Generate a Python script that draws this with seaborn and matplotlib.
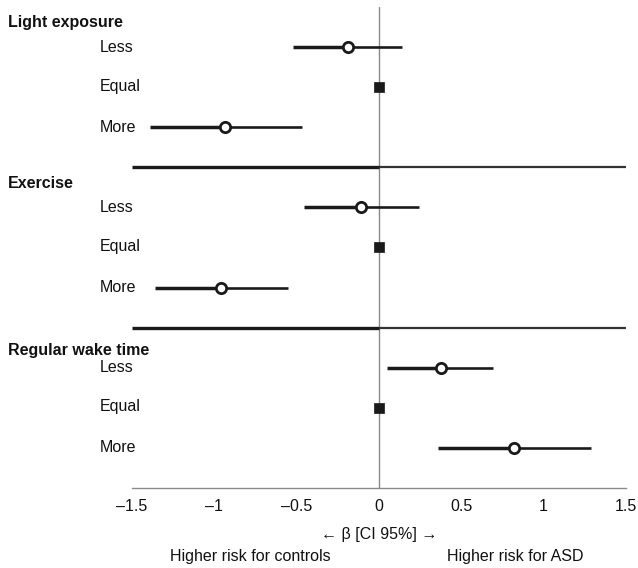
import numpy as np
import pandas as pd
import matplotlib.pyplot as plt
import seaborn as sns

# forest plot: beta with 95% CI per category
groups = ["Light exposure", "Exercise", "Regular wake time"]
levels = ["Less", "Equal", "More"]
beta = [-0.19, 0.0, -0.935,
        -0.11, 0.0, -0.96,
        0.375, 0.0, 0.82]
ci_low = [-0.52, 0.0, -1.39,
          -0.455, 0.0, -1.36,
          0.047, 0.0, 0.356]
ci_high = [0.14, 0.0, -0.47,
           0.24, 0.0, -0.55,
           0.694, 0.0, 1.285]
xticks = [-1.5, -1, -0.5, 0, 0.5, 1, 1.5]
xticklabels = ["\u20131.5", "\u20131", "\u20130.5", "0", "0.5", "1", "1.5"]

sns.set_style("white")
plt.rcParams["font.family"] = ["Liberation Sans", "DejaVu Sans"]
plt.rcParams["text.color"] = "#111111"
plt.rcParams["axes.labelcolor"] = "#111111"
plt.rcParams["xtick.color"] = "#111111"
_fs = 11.5

rows = []
for gi, g in enumerate(groups):
    for li, lv in enumerate(levels):
        k = gi * 3 + li
        rows.append({"group": g, "level": lv, "pos": gi * 4 + li + 1,
                     "beta": beta[k], "lo": ci_low[k], "hi": ci_high[k],
                     "ref": lv == "Equal"})
df = pd.DataFrame(rows)

fig = plt.figure(figsize=(6.38, 5.68), dpi=100)
ax = fig.add_axes([132 / 638, 1 - 488 / 568, 494 / 638, 481 / 568])

# zero line
ax.axvline(0, color="#8a8a8a", lw=1, zorder=1)

est = df[~df["ref"]]
ax.hlines(est["pos"], est["lo"], est["beta"], color="#1a1a1a", lw=2.5, zorder=2)
ax.hlines(est["pos"], est["beta"], est["hi"], color="#1a1a1a", lw=1.9, zorder=2)
sns.scatterplot(data=est, x="beta", y="pos", ax=ax, marker="o", s=55,
                facecolor="white", edgecolor="#1a1a1a", linewidth=2, zorder=3)
sns.scatterplot(data=df[df["ref"]], x="beta", y="pos", ax=ax, marker="s", s=55,
                color="#1a1a1a", edgecolor="#1a1a1a", linewidth=0.5, zorder=3)

# separators between groups
for sep in [4, 8]:
    ax.plot([-1.5, 0], [sep, sep], color="#1a1a1a", lw=2.4, zorder=2,
            solid_capstyle="butt")
    ax.plot([0, 1.5], [sep, sep], color="#333333", lw=1.6, zorder=2,
            solid_capstyle="butt")

ax.set_xlim(-1.5, 1.5)
ax.set_ylim(12, 0)
ax.set_xticks(xticks)
ax.set_xticklabels(xticklabels, fontsize=_fs)
ax.set_yticks([])
ax.tick_params(axis="x", direction="in", length=5, color="#8a8a8a",
               labelcolor="#111111", pad=8)
for s in ["left", "top", "right"]:
    ax.spines[s].set_visible(False)
ax.spines["bottom"].set_color("#8a8a8a")
ax.spines["bottom"].set_linewidth(1)
ax.set_ylabel("")
ax.set_xlabel("\u2190 \u03b2 [CI 95%] \u2192", fontsize=_fs, labelpad=9)

# row labels
for _, r in df.iterrows():
    fig.text(100 / 638, 1 - (7 + r["pos"] * 40) / 568, r["level"], fontsize=_fs,
             ha="left", va="center")
head_y = [22, 184, 350]
for g, hy in zip(groups, head_y):
    fig.text(8 / 638, 1 - hy / 568, g, fontsize=_fs, fontweight="bold",
             ha="left", va="center")

fig.text(250 / 638, 1 - 556 / 568, "Higher risk for controls", fontsize=_fs,
         ha="center", va="center")
fig.text(515 / 638, 1 - 556 / 568, "Higher risk for ASD", fontsize=_fs,
         ha="center", va="center")

plt.savefig("out.png", dpi=100)
